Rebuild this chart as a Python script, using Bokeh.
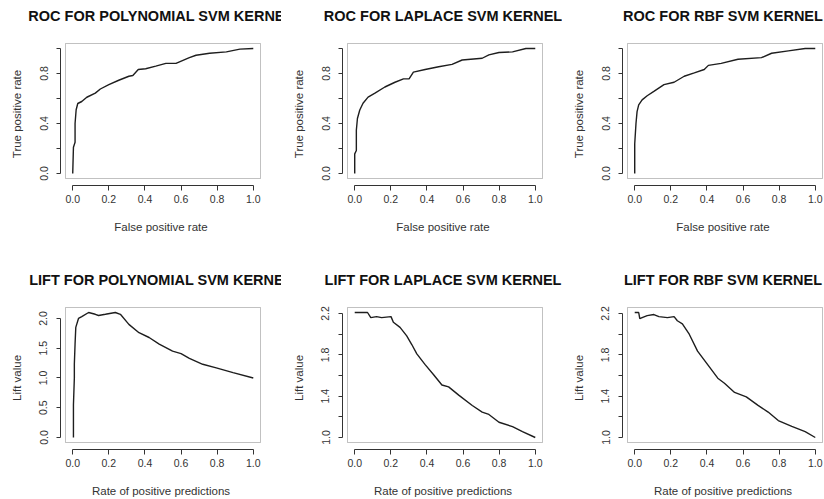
from bokeh.plotting import figure
from bokeh.layouts import gridplot
from bokeh.models import LinearAxis, FixedTicker, Range1d, BoxAnnotation, Title
from bokeh.embed import file_html
from bokeh.resources import INLINE

# ---------------- data ----------------
x_ticks = [0.0, 0.2, 0.4, 0.6, 0.8, 1.0]
x_tick_labels = ["0.0", "0.2", "0.4", "0.6", "0.8", "1.0"]

roc_y_ticks = [0.0, 0.2, 0.4, 0.6, 0.8, 1.0]
roc_y_labels = ["0.0", "", "0.4", "", "0.8", ""]

lift_poly_y_ticks = [0.0, 0.5, 1.0, 1.5, 2.0]
lift_poly_y_labels = ["0.0", "0.5", "1.0", "1.5", "2.0"]

lift_y_ticks = [1.0, 1.2, 1.4, 1.6, 1.8, 2.0, 2.2]
lift_y_labels = ["1.0", "", "1.4", "", "1.8", "", "2.2"]

roc_poly_fpr = [0.0, 0.004, 0.013, 0.013, 0.019, 0.028, 0.05, 0.078, 0.125, 0.153, 0.2, 0.255,
                0.311, 0.333, 0.363, 0.404, 0.46, 0.516, 0.572, 0.646, 0.683, 0.758, 0.851, 0.926, 1.0]
roc_poly_tpr = [0.0, 0.21, 0.25, 0.40, 0.51, 0.56, 0.576, 0.61, 0.643, 0.676, 0.711, 0.746,
                0.778, 0.784, 0.832, 0.838, 0.859, 0.881, 0.881, 0.927, 0.946, 0.962, 0.973, 0.995, 1.0]

roc_lap_fpr = [0.0, 0.0, 0.009, 0.009, 0.015, 0.028, 0.046, 0.074, 0.112, 0.167, 0.223, 0.27,
               0.301, 0.325, 0.39, 0.465, 0.539, 0.595, 0.706, 0.743, 0.799, 0.874, 0.948, 1.0]
roc_lap_tpr = [0.0, 0.157, 0.184, 0.346, 0.44, 0.508, 0.562, 0.611, 0.643, 0.692, 0.73, 0.757,
               0.757, 0.811, 0.832, 0.854, 0.873, 0.908, 0.922, 0.949, 0.968, 0.973, 1.0, 1.0]

roc_rbf_fpr = [0.0, 0.0, 0.007, 0.013, 0.022, 0.041, 0.069, 0.106, 0.162, 0.218, 0.274, 0.33,
               0.385, 0.408, 0.479, 0.572, 0.702, 0.758, 0.851, 0.944, 1.0]
roc_rbf_tpr = [0.0, 0.238, 0.40, 0.495, 0.549, 0.589, 0.622, 0.657, 0.711, 0.73, 0.778, 0.805,
               0.832, 0.865, 0.881, 0.914, 0.927, 0.962, 0.981, 1.0, 1.0]

lift_poly_rpp = [0.004, 0.004, 0.009, 0.009, 0.013, 0.017, 0.032, 0.05, 0.088, 0.125, 0.143, 0.181,
                 0.236, 0.264, 0.311, 0.367, 0.423, 0.479, 0.553, 0.6, 0.646, 0.72, 0.795, 0.888, 1.0]
lift_poly_val = [0.0, 0.55, 1.0, 1.23, 1.57, 1.85, 2.0, 2.03, 2.10, 2.07, 2.05, 2.07,
                 2.10, 2.07, 1.90, 1.76, 1.68, 1.57, 1.45, 1.41, 1.33, 1.23, 1.17, 1.09, 1.0]

lift_lap_rpp = [0.0, 0.071, 0.089, 0.121, 0.149, 0.201, 0.214, 0.251, 0.288, 0.316, 0.344, 0.39,
                0.437, 0.483, 0.52, 0.576, 0.651, 0.706, 0.743, 0.799, 0.874, 0.929, 1.0]
lift_lap_val = [2.21, 2.21, 2.16, 2.17, 2.16, 2.17, 2.115, 2.066, 1.984, 1.90, 1.81, 1.705,
                1.607, 1.508, 1.49, 1.41, 1.31, 1.246, 1.223, 1.148, 1.105, 1.056, 1.0]

lift_rbf_rpp = [0.0, 0.022, 0.028, 0.041, 0.069, 0.106, 0.134, 0.181, 0.218, 0.236, 0.264, 0.302,
                0.348, 0.404, 0.46, 0.497, 0.553, 0.618, 0.683, 0.739, 0.795, 0.87, 0.944, 1.0]
lift_rbf_val = [2.21, 2.21, 2.15, 2.16, 2.18, 2.19, 2.17, 2.16, 2.17, 2.13, 2.10, 2.0,
                1.836, 1.705, 1.574, 1.525, 1.436, 1.393, 1.311, 1.246, 1.164, 1.108, 1.056, 1.0]

# ---------------- style / layout ----------------
FONT = "Liberation Sans"
INK = "#1e1e1e"
AXC = "#333333"
TXT = "#333333"

BOX_W, BOX_H = 195, 135        # R plot region (box) in px
GAP_X_AXIS, GAP_Y_AXIS = 7, 5  # distance of detached axes from the box
EXTRA = 1                      # px of frame beyond the box on top/right
TOP = 42


def make_panel(title, xs, ys, y_ticks, y_labels, xlabel, ylabel, width, height, left):
    # R-style 4% range expansion
    x_lo, x_hi = 0.0, 1.0
    xpad = 0.04 * (x_hi - x_lo)
    y_lo, y_hi = min(ys), max(ys)
    ypad = 0.04 * (y_hi - y_lo)
    bx0, bx1 = x_lo - xpad, x_hi + xpad
    by0, by1 = y_lo - ypad, y_hi + ypad
    kx = (bx1 - bx0) / BOX_W
    ky = (by1 - by0) / BOX_H

    frame_w = BOX_W + GAP_Y_AXIS + EXTRA
    frame_h = BOX_H + GAP_X_AXIS + EXTRA
    p = figure(width=width, height=height, output_backend="svg", toolbar_location=None,
               title=None,
               x_range=Range1d(bx0 - GAP_Y_AXIS * kx, bx1 + EXTRA * kx),
               y_range=Range1d(by0 - GAP_X_AXIS * ky, by1 + EXTRA * ky),
               x_axis_location=None, y_axis_location=None,
               min_border_left=left, min_border_right=width - left - frame_w,
               min_border_top=TOP, min_border_bottom=height - TOP - frame_h)
    p.xgrid.visible = False
    p.ygrid.visible = False
    p.background_fill_color = "white"
    p.border_fill_color = "white"
    p.outline_line_color = None

    # blank spacer between the frame and the title (first = closest to frame)
    p.add_layout(Title(text=" ", text_font_size="1px", text_color="white", standoff=15), "above")
    p.add_layout(Title(text=title, text_font=FONT, text_font_size="14.5px",
                       text_font_style="bold", text_color="#111111", align="center",
                       standoff=2), "above")

    p.add_layout(BoxAnnotation(left=bx0, right=bx1, bottom=by0, top=by1,
                               fill_alpha=0, line_color=AXC, line_width=1))

    common = dict(axis_line_color=AXC, major_tick_line_color=AXC, minor_tick_line_color=None,
                  major_tick_in=0,
                  major_label_text_font=FONT, major_label_text_font_size="10.5px",
                  major_label_text_color=TXT,
                  axis_label_text_font=FONT, axis_label_text_font_size="11.5px",
                  axis_label_text_font_style="normal", axis_label_text_color=TXT)

    xa = LinearAxis(ticker=FixedTicker(ticks=x_ticks), bounds=(x_ticks[0], x_ticks[-1]),
                    major_label_overrides=dict(zip(x_ticks, x_tick_labels)),
                    major_tick_out=5, axis_label=xlabel,
                    major_label_standoff=4, axis_label_standoff=15, **common)
    ya = LinearAxis(ticker=FixedTicker(ticks=y_ticks), bounds=(y_ticks[0], y_ticks[-1]),
                    major_label_overrides=dict(zip(y_ticks, y_labels)),
                    major_label_orientation="parallel", major_tick_out=4,
                    axis_label=ylabel, major_label_standoff=9, axis_label_standoff=14, **common)
    p.add_layout(xa, "below")
    p.add_layout(ya, "left")

    p.line(xs, ys, line_color=INK, line_width=1.4)
    return p


W = [281, 281, 262]
L = [60, 61, 60]
H_TOP, H_BOT = 264, 235

p1 = make_panel("ROC FOR POLYNOMIAL SVM KERNEL", roc_poly_fpr, roc_poly_tpr, roc_y_ticks, roc_y_labels,
                "False positive rate", "True positive rate", W[0], H_TOP, L[0])
p2 = make_panel("ROC FOR LAPLACE SVM KERNEL", roc_lap_fpr, roc_lap_tpr, roc_y_ticks, roc_y_labels,
                "False positive rate", "True positive rate", W[1], H_TOP, L[1])
p3 = make_panel("ROC FOR RBF SVM KERNEL", roc_rbf_fpr, roc_rbf_tpr, roc_y_ticks, roc_y_labels,
                "False positive rate", "True positive rate", W[2], H_TOP, L[2])
p4 = make_panel("LIFT FOR POLYNOMIAL SVM KERNEL", lift_poly_rpp, lift_poly_val, lift_poly_y_ticks,
                lift_poly_y_labels, "Rate of positive predictions", "Lift value", W[0], H_BOT, L[0])
p5 = make_panel("LIFT FOR LAPLACE SVM KERNEL", lift_lap_rpp, lift_lap_val, lift_y_ticks, lift_y_labels,
                "Rate of positive predictions", "Lift value", W[1], H_BOT, L[1])
p6 = make_panel("LIFT FOR RBF SVM KERNEL", lift_rbf_rpp, lift_rbf_val, lift_y_ticks, lift_y_labels,
                "Rate of positive predictions", "Lift value", W[2], H_BOT, L[2])

grid = gridplot([[p1, p2, p3], [p4, p5, p6]], toolbar_location=None)

open("out.html", "w").write(file_html(grid, INLINE))
